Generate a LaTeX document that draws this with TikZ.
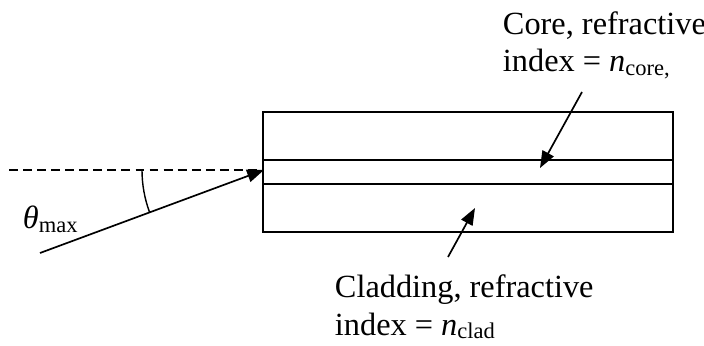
\documentclass[tikz,border=0pt]{standalone}
\usepackage{fontspec}
\setmainfont{Liberation Serif}
\usetikzlibrary{arrows.meta,positioning}
\tikzset{>={Triangle[length=12pt,width=9pt]}}
\colorlet{penColor}{black}
\newcommand{\lbl}{\fontsize{23}{28}\selectfont}
\newcommand{\subx}[1]{\raisebox{-0.25ex}{\fontsize{16}{19}\selectfont #1}}

\begin{document}
\begin{tikzpicture}
\useasboundingbox (0,0) rectangle (17.6,8.625);
\coordinate (tip) at (6.6,4.375);
\coordinate (ray) at (1.0,2.3);
\coordinate (corefoot) at (14.55,6.325);
\coordinate (coretip) at (13.5,4.425);
\coordinate (cladfoot) at (11.2,2.2);
\coordinate (cladtip) at (11.875,3.425);
\draw[penColor,line width=1.2pt] (6.575,2.825) rectangle (16.825,5.825);% fibre
\draw[penColor,line width=1.2pt] (6.575,4.625) -- (16.825,4.625);% top of core
\draw[penColor,line width=1.2pt] (6.575,4.025) -- (16.825,4.025);% bottom of core
\draw[penColor,line width=1pt,dash pattern=on 6.3pt off 3.7pt] (0.225,4.375) -- (tip);
\draw[->,penColor,line width=1.2pt] (ray) -- (tip);
\draw[penColor,line width=1pt] (tip) ++(180:3.05) arc (180:200.3:3.05);
\node[anchor=base west, penColor] (theta) at (0.45,2.9) {\lbl\textit{θ}\subx{max}};
\node[anchor=base west, penColor] (coreA) at (12.45,7.75) {\lbl Core, refractive};
\node[anchor=base west, penColor] (coreB) at (12.45,6.825) {\lbl index = \textit{n}\subx{core,}};
\node[anchor=base west, penColor] (cladA) at (8.25,1.175) {\lbl Cladding, refractive};
\node[anchor=base west, penColor] (cladB) at (8.25,0.25) {\lbl index = \textit{n}\subx{clad}};
\draw[->,penColor,line width=1.2pt] (corefoot) -- (coretip);
\draw[->,penColor,line width=1.2pt] (cladfoot) -- (cladtip);
\end{tikzpicture}
\end{document}
